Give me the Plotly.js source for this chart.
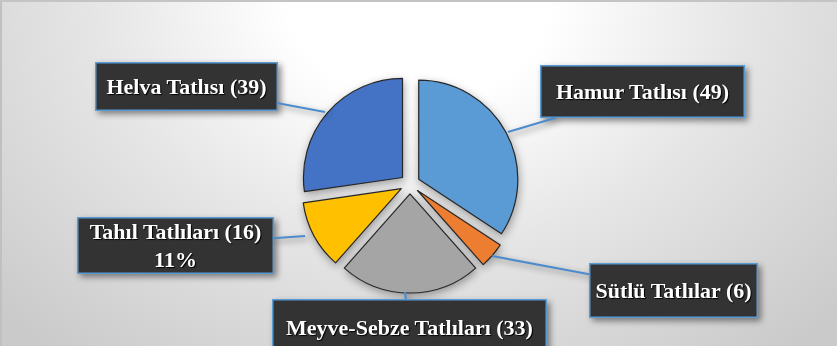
<!DOCTYPE html>
<html>
<head>
<meta charset="utf-8">
<script src="https://cdn.plot.ly/plotly-3.0.1.min.js"></script>
<style>
  html, body { margin: 0; padding: 0; }
  #wrap {
    width: 837px; height: 346px; position: relative; overflow: hidden;
    background: radial-gradient(ellipse 70% 130% at 50% 0%, #ffffff 0%, #ffffff 22%, #e6e6e6 55%, #cacaca 100%);
    box-sizing: border-box;
    border-top: 2px solid #c4c4c4;
    border-left: 2px solid #c0c0c0;
  }
  #chart { position: absolute; left: -2px; top: -2px; width: 837px; height: 346px; }
  .pielayer { filter: drop-shadow(1px 3px 4px rgba(0,0,0,0.35)); }
  .annotation { filter: drop-shadow(3px 3px 3px rgba(0,0,0,0.45)); }
</style>
</head>
<body>
<div id="wrap"><div id="chart"></div></div>
<script>
// ---- data ----
const categories = ["Hamur Tatlısı", "Sütlü Tatlılar", "Meyve-Sebze Tatlıları", "Tahıl Tatlıları", "Helva Tatlısı"];
const values = [49, 6, 33, 16, 39];
const colors = ["#5B9BD5", "#ED7D31", "#A5A5A5", "#FFC000", "#4472C4"];
const showPercent = [false, false, false, true, false];

// ---- label layout (pixels in the 837x346 picture) ----
// head: where the leader touches the pie; box: label box centre and size
const labelPos = [
  { head: [508, 132], box: [642, 92], w: 202, h: 50 },
  { head: [492, 256], box: [673, 290], w: 166, h: 52 },
  { head: [405, 292], box: [409, 327], w: 272, h: 54 },
  { head: [305, 236], box: [175, 245], w: 194, h: 54 },
  { head: [325, 112], box: [186, 86],  w: 180, h: 46 }
];

const W = 837, H = 346;
const total = values.reduce((a, b) => a + b, 0);

const trace = {
  type: 'pie',
  labels: categories,
  values: values,
  sort: false,
  direction: 'clockwise',
  rotation: 0,
  pull: 0.1,
  marker: { colors: colors, line: { color: '#262626', width: 1.2 } },
  textinfo: 'none',
  hoverinfo: 'label+value+percent',
  domain: { x: [0.3596, 0.6201], y: [0.1532, 0.7832] }
};

const annotations = categories.map((c, i) => {
  const p = labelPos[i];
  let txt = c + ' (' + values[i] + ')';
  if (showPercent[i]) txt += '<br>' + Math.round(values[i] / total * 100) + '%';
  return {
    xref: 'paper', yref: 'paper',
    x: p.head[0] / W, y: 1 - p.head[1] / H,
    ax: p.box[0] - p.head[0], ay: p.box[1] - p.head[1],
    axref: 'pixel', ayref: 'pixel',
    text: txt,
    showarrow: true, arrowhead: 0, arrowwidth: 2.2, arrowcolor: '#4d8ccc',
    bgcolor: '#333333', bordercolor: '#5B9BD5', borderwidth: 1.5, borderpad: 0,
    width: p.w, height: p.h,
    align: 'center', valign: 'middle',
    font: { family: '"Liberation Serif", "Times New Roman", serif', size: 22, color: '#ffffff', weight: 'bold',
            shadow: '1px 1px 1px #000' }
  };
});

const layout = {
  width: W, height: H,
  margin: { l: 0, r: 0, t: 0, b: 0 },
  paper_bgcolor: 'rgba(0,0,0,0)',
  plot_bgcolor: 'rgba(0,0,0,0)',
  showlegend: false,
  annotations: annotations
};

Plotly.newPlot('chart', [trace], layout, { displayModeBar: false, staticPlot: true });
</script>
</body>
</html>
